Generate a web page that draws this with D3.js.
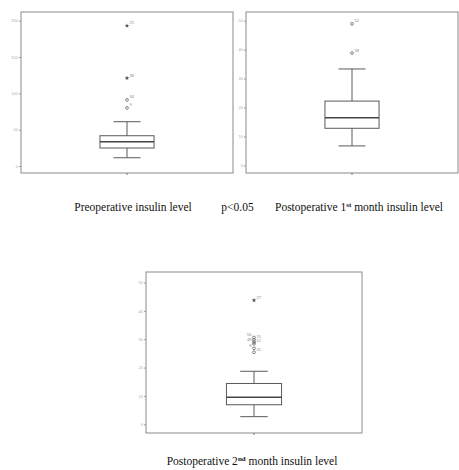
<!DOCTYPE html>
<html>
<head>
<meta charset="utf-8">
<script src="https://cdn.jsdelivr.net/npm/d3@7"></script>
<style>
	body { margin: 0; background: #fff; }
	svg { display: block; }
</style>
</head>
<body>
<div id="content"></div>
<script>
// box plot stats (one entry per panel)
var whiskerLow = [11.4, 6.7, 2.7];
var q1 = [24.8, 12.8, 6.9];
var median = [33.5, 16.4, 9.5];
var q3 = [41.7, 22.2, 14.4];
var whiskerHigh = [61, 33.3, 18.7];

// outliers: value, case label, kind (o = outlier, e = extreme)
var outliers1 = [[193, "21", "e"], [121, "38", "e"], [91, "34", "o"], [80, "9", "o"]];
var outliers2 = [[48.9, "52", "o"], [38.8, "38", "o"]];
var outliers3 = [[43.7, "27", "e"], [30.6, "56", "o"], [29.8, "15", "o"], [29.0, "48", "o"], [28.4, "51", "o"], [26.8, "8", "o"], [25.4, "31", "o"]];

var yTicks1 = [0, 50, 100, 150, 200];
var yTicks2 = [0, 10, 20, 30, 40, 50];
var yTicks3 = [0, 10, 20, 30, 40, 50];

var categories = ["1"];

function main() {
	var svg = d3.select("#content").append("svg")
		.attr("width", 459)
		.attr("height", 470);

	var panels = [
		{ x0: 21, x1: 233, y0: 12, y1: 173, domain: [-9.6, 212], ticks: yTicks1, outliers: outliers1 },
		{ x0: 246, x1: 458, y0: 12, y1: 173, domain: [-2.66, 53.0], ticks: yTicks2, outliers: outliers2 },
		{ x0: 146, x1: 362, y0: 272, y1: 433, domain: [-3.06, 53.7], ticks: yTicks3, outliers: outliers3 }
	];

	panels.forEach(function (p, i) {
		drawPanel(svg, p, i);
	});

	// captions
	var cap = svg.append("g")
		.attr("font-family", "'Liberation Serif', 'Times New Roman', serif")
		.attr("font-size", 11.5)
		.attr("fill", "#111");

	cap.append("text").attr("x", 133).attr("y", 210.5).attr("text-anchor", "middle")
		.text("Preoperative insulin level");
	cap.append("text").attr("x", 237.5).attr("y", 210.5).attr("text-anchor", "middle")
		.text("p<0.05");

	var t2 = cap.append("text").attr("x", 359).attr("y", 210.5).attr("text-anchor", "middle");
	t2.append("tspan").text("Postoperative 1");
	t2.append("tspan").attr("font-size", 7).attr("dy", -4).attr("font-weight", "bold").text("st");
	t2.append("tspan").attr("dy", 4).text(" month insulin level");

	var t3 = cap.append("text").attr("x", 252).attr("y", 465).attr("text-anchor", "middle");
	t3.append("tspan").text("Postoperative 2");
	t3.append("tspan").attr("font-size", 7).attr("dy", -4).attr("font-weight", "bold").text("nd");
	t3.append("tspan").attr("dy", 4).text(" month insulin level");
}

function drawPanel(svg, p, i) {
	var g = svg.append("g");

	var y = d3.scaleLinear()
		.domain(p.domain)
		.range([p.y1, p.y0]);

	var x = d3.scaleBand()
		.domain(categories)
		.range([p.x0, p.x1])
		.paddingInner(0)
		.paddingOuter(1.46);

	// frame
	g.append("rect")
		.attr("x", p.x0).attr("y", p.y0)
		.attr("width", p.x1 - p.x0).attr("height", p.y1 - p.y0)
		.attr("fill", "none")
		.attr("stroke", "#8a8a8a")
		.attr("stroke-width", 1);

	// y axis
	var yAxis = g.append("g")
		.attr("transform", "translate(" + p.x0 + ",0)")
		.call(d3.axisLeft(y).tickValues(p.ticks).tickSize(2).tickPadding(1));
	yAxis.select(".domain").remove();
	yAxis.selectAll("line").attr("stroke", "#999");
	yAxis.selectAll("text")
		.attr("font-size", 4)
		.attr("font-family", "Arial, sans-serif")
		.attr("fill", "#aaa");

	// x axis tick
	var xAxis = g.append("g")
		.attr("transform", "translate(0," + p.y1 + ")")
		.call(d3.axisBottom(x).tickSize(2).tickFormat(""));
	xAxis.select(".domain").remove();
	xAxis.selectAll("line").attr("stroke", "#777");

	var cx = x("1") + x.bandwidth() / 2;
	var bw = x.bandwidth();
	var stroke = "#5a5a5a";

	// whisker line
	g.append("line")
		.attr("x1", cx).attr("x2", cx)
		.attr("y1", y(whiskerLow[i])).attr("y2", y(whiskerHigh[i]))
		.attr("stroke", stroke).attr("stroke-width", 1);

	// caps
	[whiskerLow[i], whiskerHigh[i]].forEach(function (v) {
		g.append("line")
			.attr("x1", cx - bw / 4).attr("x2", cx + bw / 4)
			.attr("y1", y(v)).attr("y2", y(v))
			.attr("stroke", stroke).attr("stroke-width", 1);
	});

	// box
	g.append("rect")
		.attr("x", x("1")).attr("width", bw)
		.attr("y", y(q3[i])).attr("height", y(q1[i]) - y(q3[i]))
		.attr("fill", "#fff")
		.attr("stroke", stroke).attr("stroke-width", 1);

	// median
	g.append("line")
		.attr("x1", x("1")).attr("x2", x("1") + bw)
		.attr("y1", y(median[i])).attr("y2", y(median[i]))
		.attr("stroke", "#444").attr("stroke-width", 1.5);

	// outliers
	var star = d3.symbol().type(d3.symbolStar).size(7);
	p.outliers.forEach(function (d, k) {
		var yy = y(d[0]);
		if (d[2] === "e") {
			g.append("path")
				.attr("d", star())
				.attr("transform", "translate(" + cx + "," + yy + ")")
				.attr("fill", "#555");
		} else {
			g.append("circle")
				.attr("cx", cx).attr("cy", yy).attr("r", 1.4)
				.attr("fill", "none")
				.attr("stroke", "#666").attr("stroke-width", 0.8);
		}
		// labels alternate sides in the crowded bottom panel
		var left = (i === 2 && k > 0 && k % 2 === 1);
		g.append("text")
			.attr("x", left ? cx - 2.5 : cx + 2.5)
			.attr("y", yy - 1.5)
			.attr("text-anchor", left ? "end" : "start")
			.attr("font-size", 4)
			.attr("font-family", "Arial, sans-serif")
			.attr("fill", "#888")
			.text(d[1]);
	});
}

main();
</script>
</body>
</html>
